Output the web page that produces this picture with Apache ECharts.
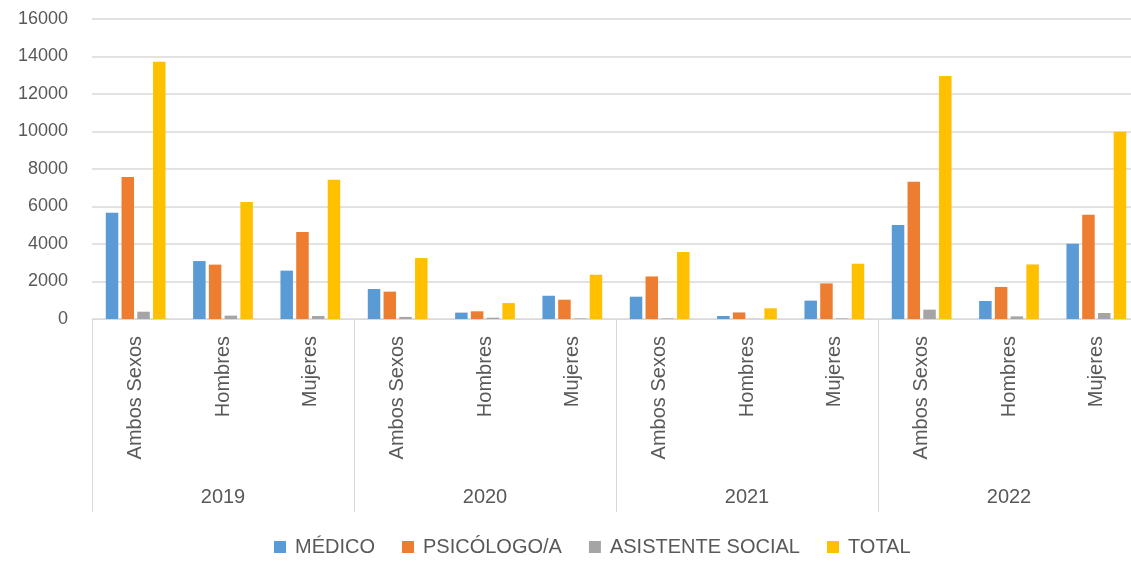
<!DOCTYPE html>
<html>
<head>
<meta charset="utf-8">
<script src="https://cdn.jsdelivr.net/npm/echarts@6/dist/echarts.min.js"></script>
<style>
  html, body { margin: 0; padding: 0; background: #fff; }
  #chart { width: 1131px; height: 562px; }
</style>
</head>
<body>
<div id="chart"></div>
<script>
  var years = ['2019', '2020', '2021', '2022'];
  var sexos = ['Ambos Sexos', 'Hombres', 'Mujeres'];
  var seriesNames = ['MÉDICO', 'PSICÓLOGO/A', 'ASISTENTE SOCIAL', 'TOTAL'];
  // one value per (year, sexo) in the order above
  var medico = [5670, 3090, 2580, 1600, 340, 1240, 1190, 160, 980, 5010, 960, 4020];
  var psicologo = [7570, 2900, 4640, 1460, 410, 1030, 2270, 350, 1900, 7320, 1710, 5560];
  var asistente = [390, 180, 160, 110, 70, 30, 30, 10, 30, 500, 140, 320];
  var total = [13720, 6240, 7430, 3250, 850, 2360, 3570, 570, 2950, 12960, 2910, 9990];
  var yTicks = [0, 16000, 2000];

  var colors = ['#5B9BD5', '#ED7D31', '#A5A5A5', '#FFC000'];
  var textColor = '#595959';
  var font = 'Liberation Sans';

  var cats = [];
  years.forEach(function (y) {
    sexos.forEach(function (s) { cats.push(s); });
  });

  var data = [medico, psicologo, asistente, total];
  var series = [];
  for (var i = 0; i < seriesNames.length; i++) {
    series.push({
      name: seriesNames[i],
      type: 'bar',
      data: data[i],
      barWidth: 12.5,
      barGap: '26%',
      itemStyle: { color: colors[i] }
    });
  }

  var myChart = echarts.init(document.getElementById('chart'));
  myChart.setOption({
    animation: false,
    color: colors,
    grid: { left: 92, top: 19, width: 1048, height: 300, outerBoundsMode: 'none' },
    legend: {
      bottom: 0,
      left: 269,
      itemWidth: 12,
      itemHeight: 12,
      itemGap: 27,
      icon: 'rect',
      textStyle: { color: textColor, fontSize: 20, fontFamily: font, padding: [0, 0, 0, 4] },
      data: seriesNames
    },
    xAxis: [
      {
        type: 'category',
        data: cats,
        position: 'bottom',
        axisLine: { show: true, lineStyle: { color: '#D9D9D9', width: 1 } },
        axisTick: { show: false },
        axisLabel: {
          rotate: 90,
          margin: 17,
          interval: 0,
          color: textColor,
          fontSize: 20,
          fontFamily: font
        }
      },
      {
        type: 'category',
        data: years,
        position: 'bottom',
        gridIndex: 0,
        axisLine: { show: false },
        axisTick: { show: true, length: 193, lineStyle: { color: '#D9D9D9' } },
        axisLabel: {
          margin: 168,
          color: textColor,
          fontSize: 20,
          fontFamily: font
        }
      }
    ],
    yAxis: {
      type: 'value',
      min: yTicks[0],
      max: yTicks[1],
      interval: yTicks[2],
      axisLine: { show: false },
      axisTick: { show: false },
      splitLine: { lineStyle: { color: '#D9D9D9', width: 1.5 } },
      axisLabel: {
        margin: 24,
        color: textColor,
        fontSize: 18,
        fontFamily: font,
        formatter: function (v) { return String(v); }
      }
    },
    series: series
  });
</script>
</body>
</html>
